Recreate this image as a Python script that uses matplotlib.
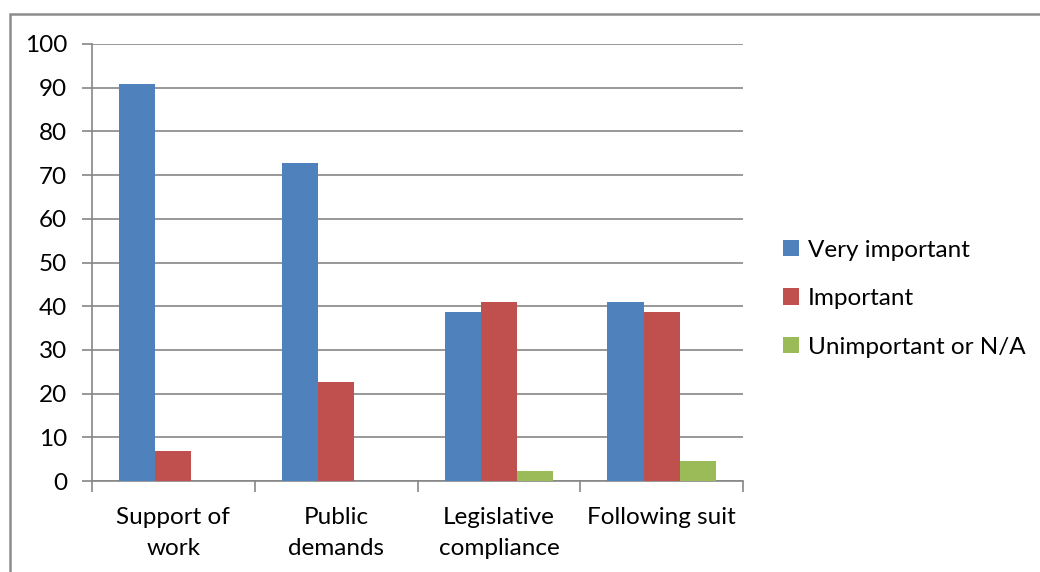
import matplotlib
matplotlib.use("Agg")
import matplotlib.pyplot as plt
import numpy as np
from matplotlib.patches import Rectangle

categories = ["Support of\nwork", "Public\ndemands", "Legislative\ncompliance", "Following suit"]
series_names = ["Very important", "Important", "Unimportant or N/A"]
very_important = [90.9, 72.7, 38.6, 40.9]
important = [6.8, 22.7, 40.9, 38.6]
unimportant = [0.0, 0.0, 2.3, 4.5]
colors = ["#4F81BD", "#C0504D", "#9BBB59"]
y_ticks = [0, 10, 20, 30, 40, 50, 60, 70, 80, 90, 100]

plt.rcParams["font.family"] = ["Lato", "DejaVu Sans"]
fs = 17.5

fig = plt.figure(figsize=(10.4, 5.72), dpi=100)
ax = fig.add_axes([92 / 1040, 1 - 481 / 572, (743 - 92) / 1040, (481 - 44) / 572])

grey = "#868686"
x = np.arange(len(categories))
bw = 0.222
for i, (vals, name, c) in enumerate(zip([very_important, important, unimportant], series_names, colors)):
    ax.bar(x + (i - 1) * bw, vals, width=bw, color=c, label=name, zorder=3,
           edgecolor="none")

ax.set_xlim(-0.5, len(categories) - 0.5)
ax.set_ylim(0, 100)
ax.set_yticks(y_ticks)
ax.set_yticklabels([str(v) for v in y_ticks], fontsize=fs)
ax.yaxis.grid(True, color=grey, linewidth=1.2, zorder=0)
ax.set_axisbelow(True)

ax.set_xticks(x)
ax.set_xticklabels(categories, fontsize=fs, linespacing=1.55)
ax.set_xticks(np.arange(-0.5, len(categories)), minor=True)
ax.tick_params(axis="x", which="major", length=0, pad=19)
ax.tick_params(axis="x", which="minor", length=8, width=1.2, color=grey)
ax.tick_params(axis="y", length=7, width=1.2, color=grey, pad=11)

for s in ["top", "right"]:
    ax.spines[s].set_visible(False)
for s in ["left", "bottom"]:
    ax.spines[s].set_color(grey)
    ax.spines[s].set_linewidth(1.2)

leg = fig.legend(loc="upper left", bbox_to_anchor=(773 / 1040, 1 - 230 / 572),
                 frameon=False, fontsize=fs, handlelength=0.66, handleheight=0.66,
                 handletextpad=0.36, labelspacing=1.13, borderaxespad=0)

# outer chart frame
fig.patches.append(Rectangle((10 / 1040, -0.1), 1.2, 1.1 - 14 / 572, transform=fig.transFigure,
                             fill=False, edgecolor="#8C8C8C", linewidth=1.8))

fig.savefig("out.png", dpi=100, facecolor="white")
